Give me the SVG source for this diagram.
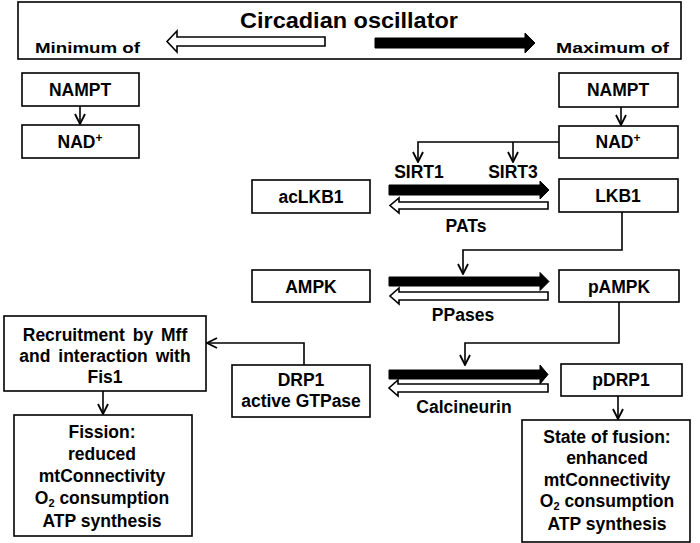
<svg xmlns="http://www.w3.org/2000/svg" width="700" height="543" viewBox="0 0 700 543">
<defs>
<style>
.box{fill:#fff;stroke:#000;stroke-width:1.6}
.t{font-family:"Liberation Sans",Arial,sans-serif;font-weight:bold;font-size:17.5px;fill:#000;text-anchor:middle}
.c{fill:none;stroke:#000;stroke-width:1.6}
.fa{fill:#000;stroke:#000;stroke-width:1}
.ha{fill:#fff;stroke:#000;stroke-width:1.6}
</style>
<marker id="ah" viewBox="0 0 12 12" refX="11" refY="6" markerWidth="12" markerHeight="12" markerUnits="userSpaceOnUse" orient="auto">
<path d="M1,1 L11,6 L1,11" fill="none" stroke="#000" stroke-width="1.8"/>
</marker>
</defs>
<rect width="700" height="543" fill="#fff"/>

<g id="header">
<rect class="box" x="18" y="2" width="663" height="57"/>
<text class="t" x="349" y="28" style="font-size:22px" textLength="218" lengthAdjust="spacingAndGlyphs">Circadian oscillator</text>
<text class="t" x="35" y="53" style="text-anchor:start;font-size:15.5px" textLength="105" lengthAdjust="spacingAndGlyphs">Minimum  of</text>
<text class="t" x="669" y="53" style="text-anchor:end;font-size:15.5px" textLength="113" lengthAdjust="spacingAndGlyphs">Maximum  of</text>
<polygon class="ha" points="325,37 177,37 177,31 167,41.5 177,52 177,46 325,46"/>
<polygon class="fa" points="375,38 525,38 525,33 535,43 525,53 525,48 375,48"/>
</g>

<g id="nampt-min"><rect class="box" x="22" y="73" width="117" height="33"/><text class="t" x="80" y="96">NAMPT</text></g>
<g id="nad-min"><rect class="box" x="22" y="125" width="117" height="33"/><text class="t" x="80" y="148">NAD<tspan dy="-6" font-size="12">+</tspan></text></g>
<g id="nampt-max"><rect class="box" x="559" y="73" width="119" height="34"/><text class="t" x="618" y="96">NAMPT</text></g>
<g id="nad-max"><rect class="box" x="559" y="126" width="119" height="32"/><text class="t" x="618" y="148">NAD<tspan dy="-6" font-size="12">+</tspan></text></g>
<g id="aclkb1"><rect class="box" x="252" y="180" width="118" height="33"/><text class="t" x="311" y="203">acLKB1</text></g>
<g id="lkb1"><rect class="box" x="559" y="179" width="119" height="33"/><text class="t" x="618" y="202">LKB1</text></g>
<g id="ampk"><rect class="box" x="252" y="270" width="118" height="32"/><text class="t" x="311" y="293">AMPK</text></g>
<g id="pampk"><rect class="box" x="559" y="270" width="120" height="32"/><text class="t" x="619" y="293">pAMPK</text></g>
<g id="drp1"><rect class="box" x="232" y="365" width="138" height="52"/><text class="t" x="301" y="386">DRP1</text><text class="t" x="301" y="407">active GTPase</text></g>
<g id="pdrp1"><rect class="box" x="561" y="364" width="121" height="32"/><text class="t" x="621" y="386">pDRP1</text></g>
<g id="recruit"><rect class="box" x="4" y="316" width="202" height="75"/><text class="t" x="105" y="341" word-spacing="3">Recruitment by Mff</text><text class="t" x="105" y="362" word-spacing="3">and interaction with</text><text class="t" x="105" y="383">Fis1</text></g>
<g id="fission"><rect class="box" x="14" y="415" width="178" height="121"/>
<text class="t" x="102" y="438">Fission:</text><text class="t" x="102" y="460">reduced</text><text class="t" x="102" y="482">mtConnectivity</text><text class="t" x="102" y="504">O<tspan dy="3" font-size="11">2</tspan><tspan dy="-3"> consumption</tspan></text><text class="t" x="102" y="527">ATP synthesis</text></g>
<g id="fusion"><rect class="box" x="522" y="420" width="168" height="122"/>
<text class="t" x="607" y="443">State of fusion:</text><text class="t" x="607" y="464">enhanced</text><text class="t" x="607" y="486">mtConnectivity</text><text class="t" x="607" y="507">O<tspan dy="3" font-size="11">2</tspan><tspan dy="-3"> consumption</tspan></text><text class="t" x="607" y="530">ATP synthesis</text></g>

<g id="labels">
<text class="t" x="419" y="178">SIRT1</text>
<text class="t" x="513" y="178">SIRT3</text>
<text class="t" x="466" y="232">PATs</text>
<text class="t" x="463" y="321">PPases</text>
<text class="t" x="464" y="413">Calcineurin</text>
</g>

<g id="connectors">
<line class="c" x1="80" y1="106" x2="80" y2="124" marker-end="url(#ah)"/>
<line class="c" x1="621" y1="107" x2="621" y2="125" marker-end="url(#ah)"/>
<polyline class="c" points="559,142 418,142 418,162" marker-end="url(#ah)"/>
<line class="c" x1="513" y1="142" x2="513" y2="162" marker-end="url(#ah)"/>
<polyline class="c" points="622,212 622,250 463,250 463,274" marker-end="url(#ah)"/>
<polyline class="c" points="619,302 619,343 465,343 465,365" marker-end="url(#ah)"/>
<polyline class="c" points="304,365 304,343 207,343" marker-end="url(#ah)"/>
<line class="c" x1="103" y1="391" x2="103" y2="414" marker-end="url(#ah)"/>
<line class="c" x1="618" y1="396" x2="618" y2="419" marker-end="url(#ah)"/>

<polygon class="fa" points="389,185 540,185 540,181 549,190 540,199 540,195 389,195"/>
<polygon class="ha" points="548,202 399,202 399,198 390,205.5 399,213 399,209 548,209"/>
<polygon class="fa" points="389,277 540,277 540,272.5 549,281.5 540,290.5 540,286 389,286"/>
<polygon class="ha" points="548,292 399,292 399,288 390,296 399,304 399,300 548,300"/>
<polygon class="fa" points="389,370 540,370 540,365 548,374.5 540,384 540,379 389,379"/>
<polygon class="ha" points="548,384 398,384 398,380 389,388 398,396 398,392 548,392"/>
</g>
</svg>
